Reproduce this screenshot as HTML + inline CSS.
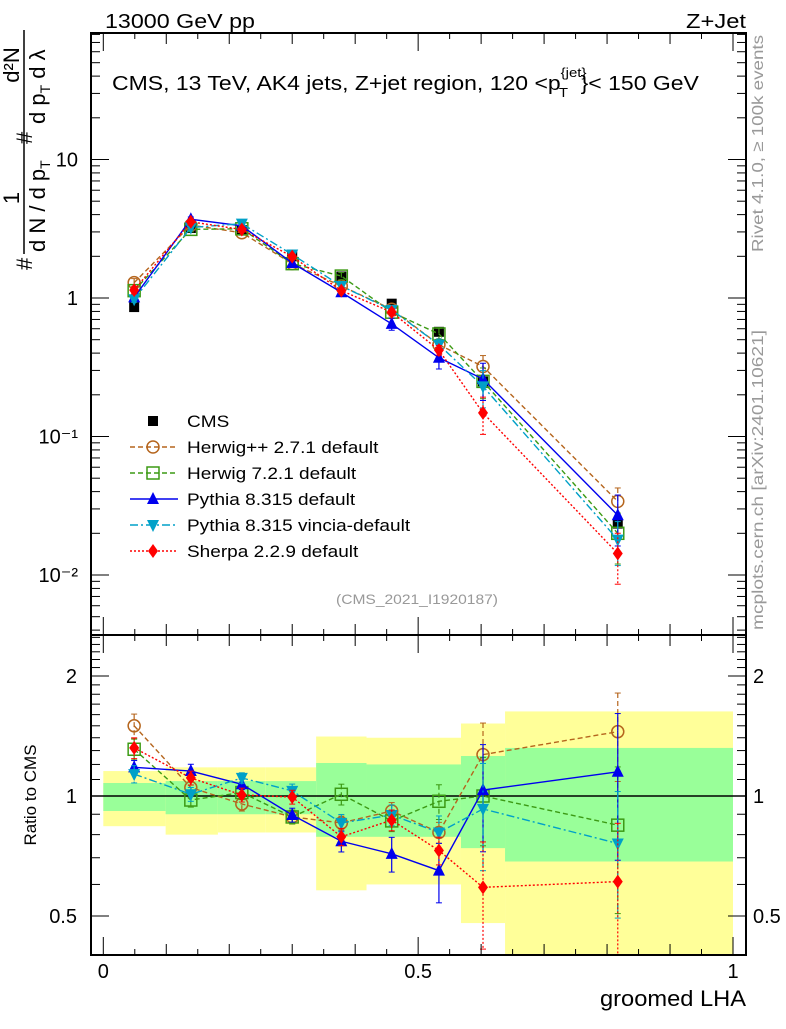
<!DOCTYPE html>
<html><head><meta charset="utf-8"><style>
body{margin:0;background:#fff}
svg text{font-family:"Liberation Sans",sans-serif}
</style></head><body>
<svg id="c" width="786" height="1024" xmlns="http://www.w3.org/2000/svg">
<text x="105" y="28" font-size="20" textLength="150" lengthAdjust="spacingAndGlyphs">13000 GeV pp</text>
<text x="686" y="28" font-size="20" textLength="60" lengthAdjust="spacingAndGlyphs">Z+Jet</text>
<g transform="translate(112,90) scale(1.15,1)">
<text x="0" y="0" font-size="20">CMS, 13 TeV, AK4 jets, Z+jet region, 120 &lt;p<tspan font-size="13" dy="-13">{jet}</tspan><tspan font-size="13" dx="-24" dy="20">T</tspan><tspan dy="-7" dx="11">}&lt; 150 GeV</tspan></text>
</g>
<text transform="translate(763,252) rotate(-90)" font-size="16" fill="#999" textLength="217" lengthAdjust="spacingAndGlyphs">Rivet 4.1.0, ≥ 100k events</text>
<text transform="translate(763,630) rotate(-90)" font-size="16" fill="#999" textLength="300" lengthAdjust="spacingAndGlyphs">mcplots.cern.ch [arXiv:2401.10621]</text>
<text x="336" y="604" font-size="14" fill="#999" textLength="162" lengthAdjust="spacingAndGlyphs">(CMS_2021_I1920187)</text>
<g transform="translate(24,270) rotate(-90)" font-size="22">
<text x="0" y="8">#</text>
<text x="72" y="-5" text-anchor="middle">1</text>
<line x1="16" y1="0" x2="240" y2="0" stroke="#000" stroke-width="1.5"/>
<text x="18" y="21">d N / d p<tspan font-size="14" dy="5">T</tspan></text>
<text x="126" y="8">#</text>
<text x="205" y="-5" text-anchor="middle">d²N</text>
<text x="146" y="21">d p<tspan font-size="14" dy="5">T</tspan><tspan dy="-5"> d λ</tspan></text>
</g>
<text transform="translate(36,795) rotate(-90)" font-size="17" text-anchor="middle">Ratio to CMS</text>
<text x="600" y="1006" font-size="22" textLength="146" lengthAdjust="spacingAndGlyphs">groomed LHA</text>
<g id="bands"></g><g id="plots"></g><g id="axes"></g><g id="legend"></g>
</svg>
<script>
const xs=[0.049,0.139,0.22,0.30,0.378,0.458,0.533,0.603,0.817];
const cmsVals=[0.86,3.2,3.1,2.0,1.43,0.91,0.57,0.25,0.0235];
const hppVals=[1.29,3.36,2.96,1.77,1.22,0.83,0.46,0.32,0.034];
const h7Vals=[1.13,3.13,3.16,1.77,1.44,0.79,0.55,0.25,0.020];
const pyVals=[1.01,3.70,3.32,1.79,1.10,0.65,0.37,0.26,0.027];
const vinVals=[0.98,3.23,3.44,2.06,1.22,0.82,0.46,0.23,0.018];
const shVals=[1.14,3.55,3.12,1.99,1.13,0.79,0.42,0.148,0.0143];
const hppRatio=[1.5,1.05,0.955,0.886,0.856,0.917,0.81,1.27,1.45];
const h7Ratio=[1.31,0.977,1.02,0.886,1.01,0.866,0.97,1.0,0.845];
const pyRatio=[1.18,1.155,1.07,0.896,0.77,0.716,0.65,1.035,1.15];
const vinRatio=[1.135,1.01,1.11,1.03,0.856,0.896,0.81,0.928,0.76];
const shRatio=[1.32,1.11,1.006,0.994,0.79,0.87,0.73,0.59,0.61];
const hppErr=[0.07,0.04,0.04,0.04,0.04,0.05,0.06,0.2,0.25];
const h7Err=[0.06,0.04,0.04,0.04,0.06,0.06,0.1,0.25,0.4];
const pyErr=[0.04,0.04,0.03,0.04,0.06,0.1,0.17,0.3,0.4];
const vinErr=[0.05,0.04,0.03,0.04,0.05,0.06,0.1,0.3,0.35];
const shErr=[0.06,0.04,0.04,0.04,0.05,0.06,0.08,0.3,0.4];
const bandEdges=[0,0.099,0.182,0.258,0.338,0.418,0.568,0.638,1.0];
const yellowHi=[1.155,1.18,1.18,1.18,1.41,1.40,1.52,1.63];
const yellowLo=[0.84,0.80,0.81,0.81,0.58,0.60,0.48,0.30];
const greenHi=[1.078,1.09,1.09,1.09,1.21,1.20,1.26,1.32];
const greenLo=[0.917,0.90,0.90,0.90,0.79,0.79,0.74,0.685];
const mainTicks=[10,1,0.1,0.01];
const mainTickLabels=["10","1","10⁻¹","10⁻²"];
const ratioTicks=[2,1,0.5];
const ratioTickLabels=["2","1","0.5"];
const xTicks=[0,0.5,1];
const xTickLabels=["0","0.5","1"];

const NS="http://www.w3.org/2000/svg";
const L=91,R=746,T=33,M=635,B=955;
const X=v=>103.3+v*629.7;
const Y=v=>298-138.5*Math.log10(v);
const YR=v=>796-120*Math.log2(v);
function mk(tag,attrs,parent){const e=document.createElementNS(NS,tag);for(const k in attrs)e.setAttribute(k,attrs[k]);parent.appendChild(e);return e;}
const bands=document.getElementById('bands'),plots=document.getElementById('plots'),axes=document.getElementById('axes'),legend=document.getElementById('legend');

for(let i=0;i<yellowHi.length;i++){
  const y=mk('rect',{x:X(bandEdges[i]),y:YR(yellowHi[i]),width:X(bandEdges[i+1])-X(bandEdges[i]),height:Math.min(YR(yellowLo[i]),B)-YR(yellowHi[i]),fill:'#ffff99'},bands);
  
  
  const g=mk('rect',{x:X(bandEdges[i]),y:YR(greenHi[i]),width:X(bandEdges[i+1])-X(bandEdges[i]),height:YR(greenLo[i])-YR(greenHi[i]),fill:'#99ff99'},bands);
  
  
}
const one=mk('line',{x1:L,x2:R,y1:YR(1),y2:YR(1),stroke:'#000','stroke-width':1.5},bands);



const series=[
 {name:'herwigpp',color:'#b5651d',dash:'5,3',mark:'circle',v:hppVals,r:hppRatio,e:hppErr,label:'Herwig++ 2.7.1 default'},
 {name:'herwig7',color:'#3c9a14',dash:'5,3',mark:'square',v:h7Vals,r:h7Ratio,e:h7Err,label:'Herwig 7.2.1 default'},
 {name:'pythia',color:'#0000ee',dash:'',mark:'up',v:pyVals,r:pyRatio,e:pyErr,label:'Pythia 8.315 default'},
 {name:'vincia',color:'#00a0c8',dash:'8,3,2,3',mark:'down',v:vinVals,r:vinRatio,e:vinErr,label:'Pythia 8.315 vincia-default'},
 {name:'sherpa',color:'#ff0000',dash:'2,2',mark:'diamond',v:shVals,r:shRatio,e:shErr,label:'Sherpa 2.2.9 default'}];

function marker(kind,cx,cy,color,parent){
  let e;
  if(kind==='circle')e=mk('circle',{cx,cy,r:6,fill:'none',stroke:color,'stroke-width':1.5},parent);
  else if(kind==='square')e=mk('rect',{x:cx-6,y:cy-6,width:12,height:12,fill:'none',stroke:color,'stroke-width':1.5},parent);
  else if(kind==='fsquare')e=mk('rect',{x:cx-5,y:cy-5,width:10,height:10,fill:color},parent);
  else if(kind==='up')e=mk('polygon',{points:`${cx-6},${cy+5} ${cx+6},${cy+5} ${cx},${cy-7}`,fill:color},parent);
  else if(kind==='down')e=mk('polygon',{points:`${cx-6},${cy-5} ${cx+6},${cy-5} ${cx},${cy+7}`,fill:color},parent);
  else e=mk('polygon',{points:`${cx},${cy-7} ${cx+5},${cy} ${cx},${cy+7} ${cx-5},${cy}`,fill:color},parent);
  return e;
}
function drawSeries(s,vals,yf,isRatio){
  const g=mk('g',{},plots);
  
  
  const pts=xs.map((x,i)=>X(x)+','+yf(vals[i])).join(' ');
  mk('polyline',{points:pts,fill:'none',stroke:s.color,'stroke-width':1.4,'stroke-dasharray':s.dash},g);
  xs.forEach((x,i)=>{
    const hi=yf(vals[i]*(1+s.e[i])),lo=Math.min(yf(Math.max(vals[i]*(1-s.e[i]),1e-9)),isRatio?B:M);
    mk('line',{x1:X(x),x2:X(x),y1:hi,y2:lo,stroke:s.color,'stroke-width':1.2,'stroke-dasharray':s.dash},g);
    mk('line',{x1:X(x)-3,x2:X(x)+3,y1:hi,y2:hi,stroke:s.color},g);
    mk('line',{x1:X(x)-3,x2:X(x)+3,y1:lo,y2:lo,stroke:s.color},g);
    const m=marker(s.mark,X(x),yf(vals[i]),s.color,g);
    
    
  });
}
const cg=mk('g',{},plots);


xs.forEach((x,i)=>{
  const m=marker('fsquare',X(x),Y(cmsVals[i]),'#000',cg);
  
  
});
series.forEach(s=>{drawSeries(s,s.v,Y,false);drawSeries(s,s.r,YR,true);});

[[T,M],[M,B]].forEach(([a,b])=>{
  const f=mk('rect',{x:L,y:a,width:R-L,height:b-a,fill:'none',stroke:'#000','stroke-width':2},axes);
  
  
});
for(let k=0;k<=20;k++){
  const v=k*0.05,px=X(v),len=(k%10===0)?18:(k%2===0?11:6);
  [[B,-1],[M,-1],[M,1],[T,1]].forEach(([y0,d])=>mk('line',{x1:px,x2:px,y1:y0,y2:y0+d*len,stroke:'#000'},axes));
}
xTicks.forEach((v,i)=>{const t=mk('text',{x:X(v),y:978,'font-size':20,'text-anchor':'middle'},axes);t.textContent=xTickLabels[i];
  });
for(let d=-3;d<=1;d++){for(let m=1;m<10;m++){const v=m*Math.pow(10,d),py=Y(v);if(py<T||py>M)continue;
  const len=m===1?18:9;mk('line',{x1:L,x2:L+len,y1:py,y2:py,stroke:'#000'},axes);mk('line',{x1:R,x2:R-len,y1:py,y2:py,stroke:'#000'},axes);}}
mainTicks.forEach((v,i)=>{const t=mk('text',{x:78,y:Y(v)+7,'font-size':20,'text-anchor':'end'},axes);t.textContent=mainTickLabels[i];
  });
[0.4,0.5,0.6,0.7,0.8,0.9,1,1.1,1.2,1.3,1.4,1.5,1.6,1.7,1.8,1.9,2,2.1,2.2,2.3,2.4,2.5].forEach(v=>{const py=YR(v);const len=(v===0.5||v===1||v===2)?18:9;
  mk('line',{x1:L,x2:L+len,y1:py,y2:py,stroke:'#000'},axes);mk('line',{x1:R,x2:R-len,y1:py,y2:py,stroke:'#000'},axes);});
ratioTicks.forEach((v,i)=>{
  const t=mk('text',{x:77,y:YR(v)+7,'font-size':20,'text-anchor':'end'},axes);t.textContent=ratioTickLabels[i];
  
  const t2=mk('text',{x:753,y:YR(v)+7,'font-size':20},axes);t2.textContent=ratioTickLabels[i];
  });
const rows=[{name:'cms',label:'CMS',mark:'fsquare',color:'#000',dash:null}].concat(series);
rows.forEach((s,i)=>{
  const y=421+i*26;
  const g=mk('g',{},legend);
  
  
  if(s.dash!==null)mk('line',{x1:130,x2:178,y1:y,y2:y,stroke:s.color,'stroke-width':1.4,'stroke-dasharray':s.dash},g);
  marker(s.mark,153,y,s.color,g);
  const t=mk('text',{x:187,y:y+6,'font-size':17,transform:`translate(187,0) scale(1.12,1) translate(-187,0)`},g);t.textContent=s.label;
});
</script>
</body></html>
